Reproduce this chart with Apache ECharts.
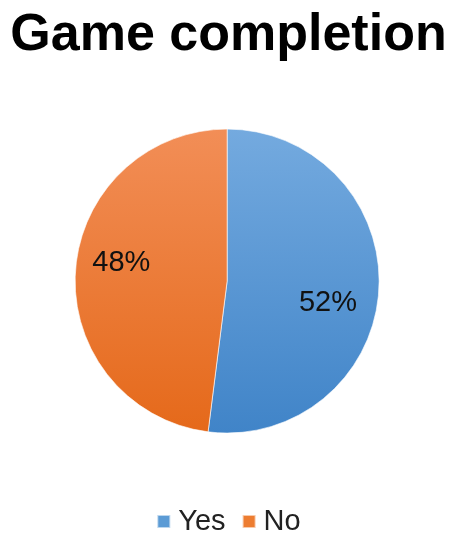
<!DOCTYPE html>
<html>
<head>
<meta charset="utf-8">
<script src="https://cdn.jsdelivr.net/npm/echarts@6/dist/echarts.min.js"></script>
<style>
  html, body { margin: 0; padding: 0; background: #fff; }
  #chart { width: 457px; height: 550px; }
</style>
</head>
<body>
<div id="chart"></div>
<script>
const categories = ["Yes", "No"];
const values = [52, 48];

// slice colours (top -> bottom gradient, legend swatch)
const topColors = ["#74AADF", "#F28E57"];
const bottomColors = ["#4084C8", "#E5691A"];
const swatchColors = ["#5B9BD5", "#ED7D31"];

const chart = echarts.init(document.getElementById("chart"));

const pieData = categories.map((name, i) => ({
  name: name,
  value: values[i],
  itemStyle: {
    color: new echarts.graphic.LinearGradient(0, 0, 0, 1, [
      { offset: 0, color: topColors[i] },
      { offset: 1, color: bottomColors[i] },
    ]),
  },
}));

chart.setOption({
  animation: false,
  title: {
    text: "Game completion",
    left: "center",
    top: 5,
    textStyle: {
      fontFamily: "Liberation Sans, Arial, sans-serif",
      fontSize: 52,
      fontWeight: "bold",
      color: "#000",
    },
  },
  legend: {
    bottom: 9,
    left: "center",
    itemWidth: 13,
    itemHeight: 13,
    itemGap: 16,
    icon: "rect",
    textStyle: {
      fontFamily: "Liberation Sans, Arial, sans-serif",
      fontSize: 29,
      color: "#222",
      padding: [0, 0, 0, 3],
    },
    data: categories.map((name, i) => ({
      name: name,
      itemStyle: { color: swatchColors[i] },
    })),
  },
  series: [
    {
      type: "pie",
      center: ["49.7%", "51.1%"],
      radius: 152,
      startAngle: 90,
      clockwise: true,
      itemStyle: {
        borderColor: "rgba(255,255,255,0.6)",
        borderWidth: 1,
      },
      label: {
        show: true,
        position: "inside",
        formatter: "{c}%",
        fontFamily: "Liberation Sans, Arial, sans-serif",
        fontSize: 29,
        color: "#111",
      },
      labelLayout: function (p) {
        // nudge labels outward like the original
        return p.dataIndex === 0 ? { dx: 22, dy: 17 } : { dx: -27, dy: -13 };
      },
      emphasis: { disabled: true },
      data: pieData,
    },
  ],
});
</script>
</body>
</html>
